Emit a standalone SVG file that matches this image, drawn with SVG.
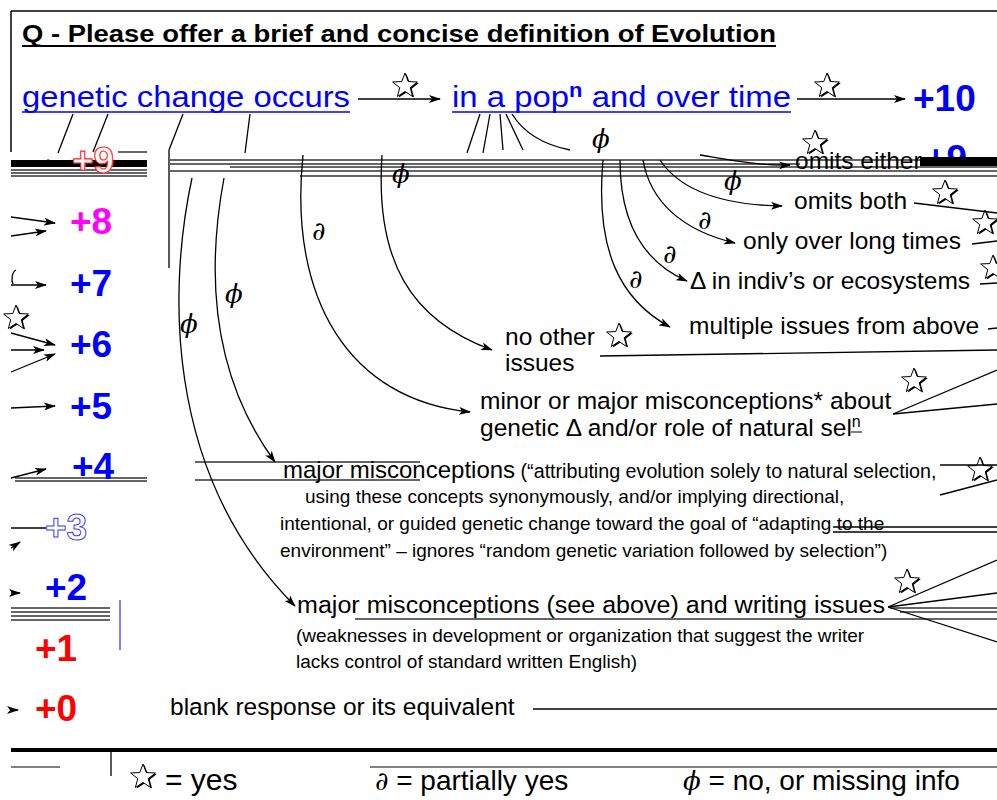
<svg xmlns="http://www.w3.org/2000/svg" width="997" height="800" viewBox="0 0 997 800">
<style>
text{font-family:"Liberation Sans",Arial,sans-serif;fill:#000}
.q{font-weight:bold;font-size:24px}
.blue{fill:#0000ff}
.hd{font-size:30px;fill:#0000ff}
.sc{font-weight:bold;font-size:37px}
.lab{font-size:24.5px}
.sm{font-size:19px}
.sym{font-family:"DejaVu Serif","Liberation Serif",serif;font-style:italic;font-size:26px}
.ln{stroke:#000;stroke-width:1.3;fill:none}
.ar{stroke:#000;stroke-width:1.3;fill:none;marker-end:url(#ah)}
.gl{stroke:#333;stroke-width:1.5}
</style>
<defs>
<marker id="ah" viewBox="0 0 12 8" refX="11" refY="4" markerWidth="12" markerHeight="8" markerUnits="userSpaceOnUse" orient="auto">
<path d="M0,0 L12,4 L0,8 L3,4 Z" fill="#000"/>
</marker>
<g id="star">
<polygon points="0,-13 3.23,-4.45 12.36,-4.02 5.23,1.7 7.64,10.52 0,5.5 -7.64,10.52 -5.23,1.7 -12.36,-4.02 -3.23,-4.45" transform="translate(1.5,1)" fill="#000"/>
<polygon points="0,-13 3.23,-4.45 12.36,-4.02 5.23,1.7 7.64,10.52 0,5.5 -7.64,10.52 -5.23,1.7 -12.36,-4.02 -3.23,-4.45" fill="#fff" stroke="#000" stroke-width="1"/>
</g>
<clipPath id="topclip"><rect x="900" y="100" width="97" height="57"/></clipPath>
</defs>
<rect width="997" height="800" fill="#fff"/>

<!-- frame -->
<g id="frame">
<line x1="11" y1="11" x2="997" y2="11" stroke="#000" stroke-width="1.5"/>
<line x1="11" y1="11" x2="11" y2="152" stroke="#000" stroke-width="1.5"/>
<line x1="11" y1="750" x2="997" y2="750" stroke="#000" stroke-width="4"/>
<line x1="370" y1="767" x2="997" y2="767" stroke="#000" stroke-width="1"/>
<line x1="11" y1="767" x2="60" y2="767" stroke="#000" stroke-width="1"/>
<line x1="111" y1="750" x2="111" y2="776" stroke="#000" stroke-width="1.3"/>
</g>

<!-- glitch bands -->
<g id="glitch">
<rect x="11" y="160" width="136" height="7" fill="#000"/>
<line class="gl" x1="11" y1="170" x2="147" y2="170"/>
<line class="gl" x1="11" y1="173" x2="147" y2="173"/>
<line class="gl" x1="11" y1="176" x2="147" y2="176"/>
<line class="gl" x1="118" y1="152" x2="147" y2="152"/>
<line class="gl" x1="170" y1="160" x2="997" y2="160" stroke-width="1"/>
<line class="gl" x1="170" y1="164" x2="800" y2="164"/>
<line class="gl" x1="230" y1="167" x2="997" y2="167" stroke-width="1"/>
<line class="gl" x1="170" y1="171" x2="997" y2="171"/>
<line class="gl" x1="300" y1="176" x2="997" y2="176" stroke-width="1"/>
<rect x="920" y="157" width="77" height="9" fill="#000"/>
<line class="gl" x1="195" y1="462" x2="420" y2="462" stroke-width="1"/>
<line class="gl" x1="195" y1="480" x2="420" y2="480" stroke-width="1"/>
<line class="gl" x1="15" y1="481" x2="147" y2="481" stroke-width="1"/>
<line class="gl" x1="15" y1="478" x2="147" y2="478" stroke-width="1"/>
<line class="gl" x1="11" y1="608" x2="110" y2="608" stroke-width="1.2"/>
<line class="gl" x1="11" y1="612" x2="110" y2="612" stroke-width="1.2"/>
<line class="gl" x1="11" y1="616" x2="110" y2="616" stroke-width="1.2"/>
<line class="gl" x1="11" y1="620" x2="110" y2="620" stroke-width="1.2"/>
<line x1="120" y1="600" x2="120" y2="650" stroke="#0000ff" stroke-width="1"/>
<line class="gl" x1="890" y1="608" x2="997" y2="608" stroke-width="1"/>
<line class="gl" x1="900" y1="612" x2="997" y2="612" stroke-width="1"/>
<line class="gl" x1="355" y1="619" x2="997" y2="619" stroke-width="1"/>
</g>

<!-- title -->
<g id="title">
<text class="q" x="22" y="42" textLength="754" lengthAdjust="spacingAndGlyphs">Q - Please offer a brief and concise definition of Evolution</text>
<line x1="22" y1="46" x2="776" y2="46" stroke="#000" stroke-width="2"/>
</g>

<g id="genetic-change">
<text class="hd" x="22" y="107" textLength="328" lengthAdjust="spacingAndGlyphs">genetic change occurs</text>
<line x1="22" y1="112" x2="350" y2="112" stroke="#0000ff" stroke-width="1.5"/>
</g>
<g id="in-a-pop">
<text class="hd" x="452" y="107" textLength="339" lengthAdjust="spacingAndGlyphs">in a pop<tspan font-size="20" font-weight="bold" dy="-10">n</tspan><tspan dy="10"> and over time</tspan></text>
<line x1="452" y1="112" x2="791" y2="112" stroke="#0000ff" stroke-width="1.5"/>
</g>
<g id="score10"><text class="sc blue" x="913" y="111">+10</text></g>

<!-- left column scores -->
<g id="score9"><text class="sc" x="72" y="173" fill="none" stroke="#ff3030" stroke-width="1.2" style="fill:#fff">+9</text></g>
<g id="score9r" clip-path="url(#topclip)"><text class="sc blue" x="925" y="171">+9</text></g>
<g id="score8"><text class="sc" x="70" y="234" style="fill:#ff00ff">+8</text></g>
<g id="score7"><text class="sc blue" x="70" y="296">+7</text></g>
<g id="score6"><text class="sc blue" x="70" y="357">+6</text></g>
<g id="score5"><text class="sc blue" x="70" y="419">+5</text></g>
<g id="score4"><text class="sc blue" x="72" y="479">+4</text></g>
<g id="score3"><text class="sc" x="45" y="540" style="fill:none" stroke="#4040ff" stroke-width="1">+3</text></g>
<g id="score2"><text class="sc blue" x="45" y="600">+2</text></g>
<g id="score1"><text class="sc" x="35" y="661" style="fill:#ff0000">+1</text></g>
<g id="score0"><text class="sc" x="35" y="721" style="fill:#ff0000">+0</text></g>

<!-- right labels -->
<g id="omits-either"><text class="lab" x="795" y="169">omits either</text><use href="#star" x="815" y="143"/></g>
<g id="omits-both"><text class="lab" x="794" y="209">omits both</text><use href="#star" x="945" y="193"/></g>
<g id="long-times"><text class="lab" x="743" y="249">only over long times</text><use href="#star" x="985" y="223"/></g>
<g id="indivs"><text class="lab" x="690" y="289">Δ in indiv’s or ecosystems</text><use href="#star" x="993" y="268"/></g>
<g id="multiple"><text class="lab" x="689" y="334">multiple issues from above</text></g>
<g id="no-other"><text class="lab" x="505" y="345">no other</text><text class="lab" x="505" y="371">issues</text><use href="#star" x="619" y="336"/></g>
<g id="minor-major"><text class="lab" x="480" y="409">minor or major misconceptions* about</text><text class="lab" x="480" y="436">genetic Δ and/or role of natural sel<tspan font-size="16" dy="-9">n</tspan></text><line x1="851" y1="432" x2="862" y2="432" stroke="#000" stroke-width="1"/><use href="#star" x="914" y="381"/></g>
<g id="major">
<text x="283" y="478"><tspan font-size="24">major misconceptions</tspan><tspan font-size="19.7"> (“attributing evolution solely to natural selection,</tspan></text>
<text class="sm" x="305" y="503">using these concepts synonymously, and/or implying directional,</text>
<text class="sm" x="280" y="530">intentional, or guided genetic change toward the goal of “adapting to the</text>
<text class="sm" x="280" y="557">environment” – ignores “random genetic variation followed by selection”)</text>
<use href="#star" x="980" y="470"/>
</g>
<g id="major-writing">
<text x="297" y="613" font-size="23" textLength="588" lengthAdjust="spacingAndGlyphs">major misconceptions (see above) and writing issues</text>
<text class="sm" x="296" y="642">(weaknesses in development or organization that suggest the writer</text>
<text class="sm" x="296" y="668">lacks control of standard written English)</text>
<use href="#star" x="907" y="582"/>
</g>
<g id="blank"><text class="lab" x="170" y="715">blank response or its equivalent</text></g>

<!-- markers -->
<g id="marks">
<use href="#star" x="405" y="86"/>
<use href="#star" x="827" y="86"/>
<use href="#star" x="16" y="318"/>
<text class="sym" x="592" y="148" font-size="30">ϕ</text>
<text class="sym" x="724" y="190">ϕ</text>
<text class="sym" x="698" y="229">∂</text>
<text class="sym" x="663" y="263">∂</text>
<text class="sym" x="629" y="288">∂</text>
<text class="sym" x="312" y="240">∂</text>
<text class="sym" x="225" y="303">ϕ</text>
<text class="sym" x="180" y="333">ϕ</text>
<text class="sym" x="392" y="183" font-size="18">ϕ</text>
</g>

<!-- connectors -->
<g id="connectors">
<line class="ar" x1="358" y1="99" x2="440" y2="99"/>
<line class="ar" x1="797" y1="99" x2="905" y2="99"/>
<line class="ln" x1="73" y1="114" x2="58" y2="153"/>
<line class="ln" x1="108" y1="114" x2="93" y2="152"/>
<line class="ln" x1="183" y1="114" x2="169" y2="150"/>
<line class="ln" x1="169" y1="150" x2="169" y2="268" stroke="#666"/>
<line class="ln" x1="250" y1="114" x2="245" y2="153"/>
<line class="ln" x1="480" y1="114" x2="467" y2="153"/>
<line class="ln" x1="490" y1="114" x2="483" y2="153"/>
<line class="ln" x1="500" y1="114" x2="503" y2="150"/>
<line class="ln" x1="506" y1="114" x2="523" y2="150"/>
<path class="ln" d="M512,114 C525,135 545,145 570,150"/>
<path class="ar" d="M192,178 C170,280 160,470 295,606"/>
<path class="ar" d="M224,178 C205,280 215,380 275,462"/>
<path class="ar" d="M303,155 C288,300 350,400 470,412"/>
<path class="ar" d="M382,155 C375,260 410,320 492,350"/>
<path class="ar" d="M603,160 C595,250 620,300 670,327"/>
<path class="ar" d="M620,160 C620,230 650,265 687,281"/>
<path class="ar" d="M643,160 C650,200 680,230 735,243"/>
<path class="ar" d="M660,160 C680,190 720,205 782,206"/>
<path class="ar" d="M700,155 C730,160 760,166 790,165"/>
<!-- left column arrows -->
<line class="ar" x1="11" y1="217" x2="55" y2="223"/>
<line class="ar" x1="11" y1="236" x2="46" y2="231"/>
<path class="ln" d="M16,270 C12,272 11,280 13,284"/>
<line class="ar" x1="11" y1="285" x2="46" y2="285"/>
<line class="ar" x1="11" y1="333" x2="55" y2="345"/>
<line class="ar" x1="11" y1="350" x2="44" y2="350"/>
<line class="ar" x1="11" y1="372" x2="55" y2="354"/>
<line class="ar" x1="11" y1="408" x2="55" y2="406"/>
<line class="ar" x1="11" y1="478" x2="46" y2="469"/>
<line class="ln" x1="11" y1="528" x2="46" y2="528"/>
<line class="ar" x1="11" y1="548" x2="20" y2="542"/>
<line class="ar" x1="11" y1="593" x2="20" y2="593"/>
<line class="ar" x1="11" y1="710" x2="18" y2="710"/>
<line class="ar" x1="11" y1="163" x2="58" y2="163" stroke="#000"/>
<!-- right side lines -->
<line class="ln" x1="914" y1="203" x2="997" y2="213"/>
<line class="ln" x1="972" y1="244" x2="997" y2="241"/>
<line class="ln" x1="980" y1="284" x2="997" y2="283"/>
<line class="ln" x1="988" y1="329" x2="997" y2="328"/>
<line class="ln" x1="600" y1="356" x2="997" y2="350"/>
<line class="ln" x1="893" y1="414" x2="997" y2="370"/>
<line class="ln" x1="893" y1="414" x2="997" y2="404"/>
<line class="ln" x1="940" y1="465" x2="997" y2="465"/>
<line class="ln" x1="940" y1="495" x2="997" y2="480"/>
<line class="ln" x1="833" y1="527" x2="997" y2="527"/>
<line class="ln" x1="833" y1="532" x2="997" y2="532"/>
<line class="ln" x1="888" y1="607" x2="997" y2="560"/>
<line class="ln" x1="888" y1="607" x2="997" y2="593"/>
<line class="ln" x1="888" y1="607" x2="997" y2="642"/>
<line class="ln" x1="533" y1="709" x2="997" y2="709"/>
</g>

<!-- legend -->
<g id="legend">
<use href="#star" x="143" y="777"/>
<text x="165" y="790" font-size="30">= yes</text>
<text x="375" y="790"><tspan class="sym" font-size="28">∂</tspan><tspan font-size="28"> = partially yes</tspan></text>
<text x="683" y="790"><tspan class="sym" font-size="28">ϕ</tspan><tspan font-size="28"> = no, or missing info</tspan></text>
</g>
</svg>
